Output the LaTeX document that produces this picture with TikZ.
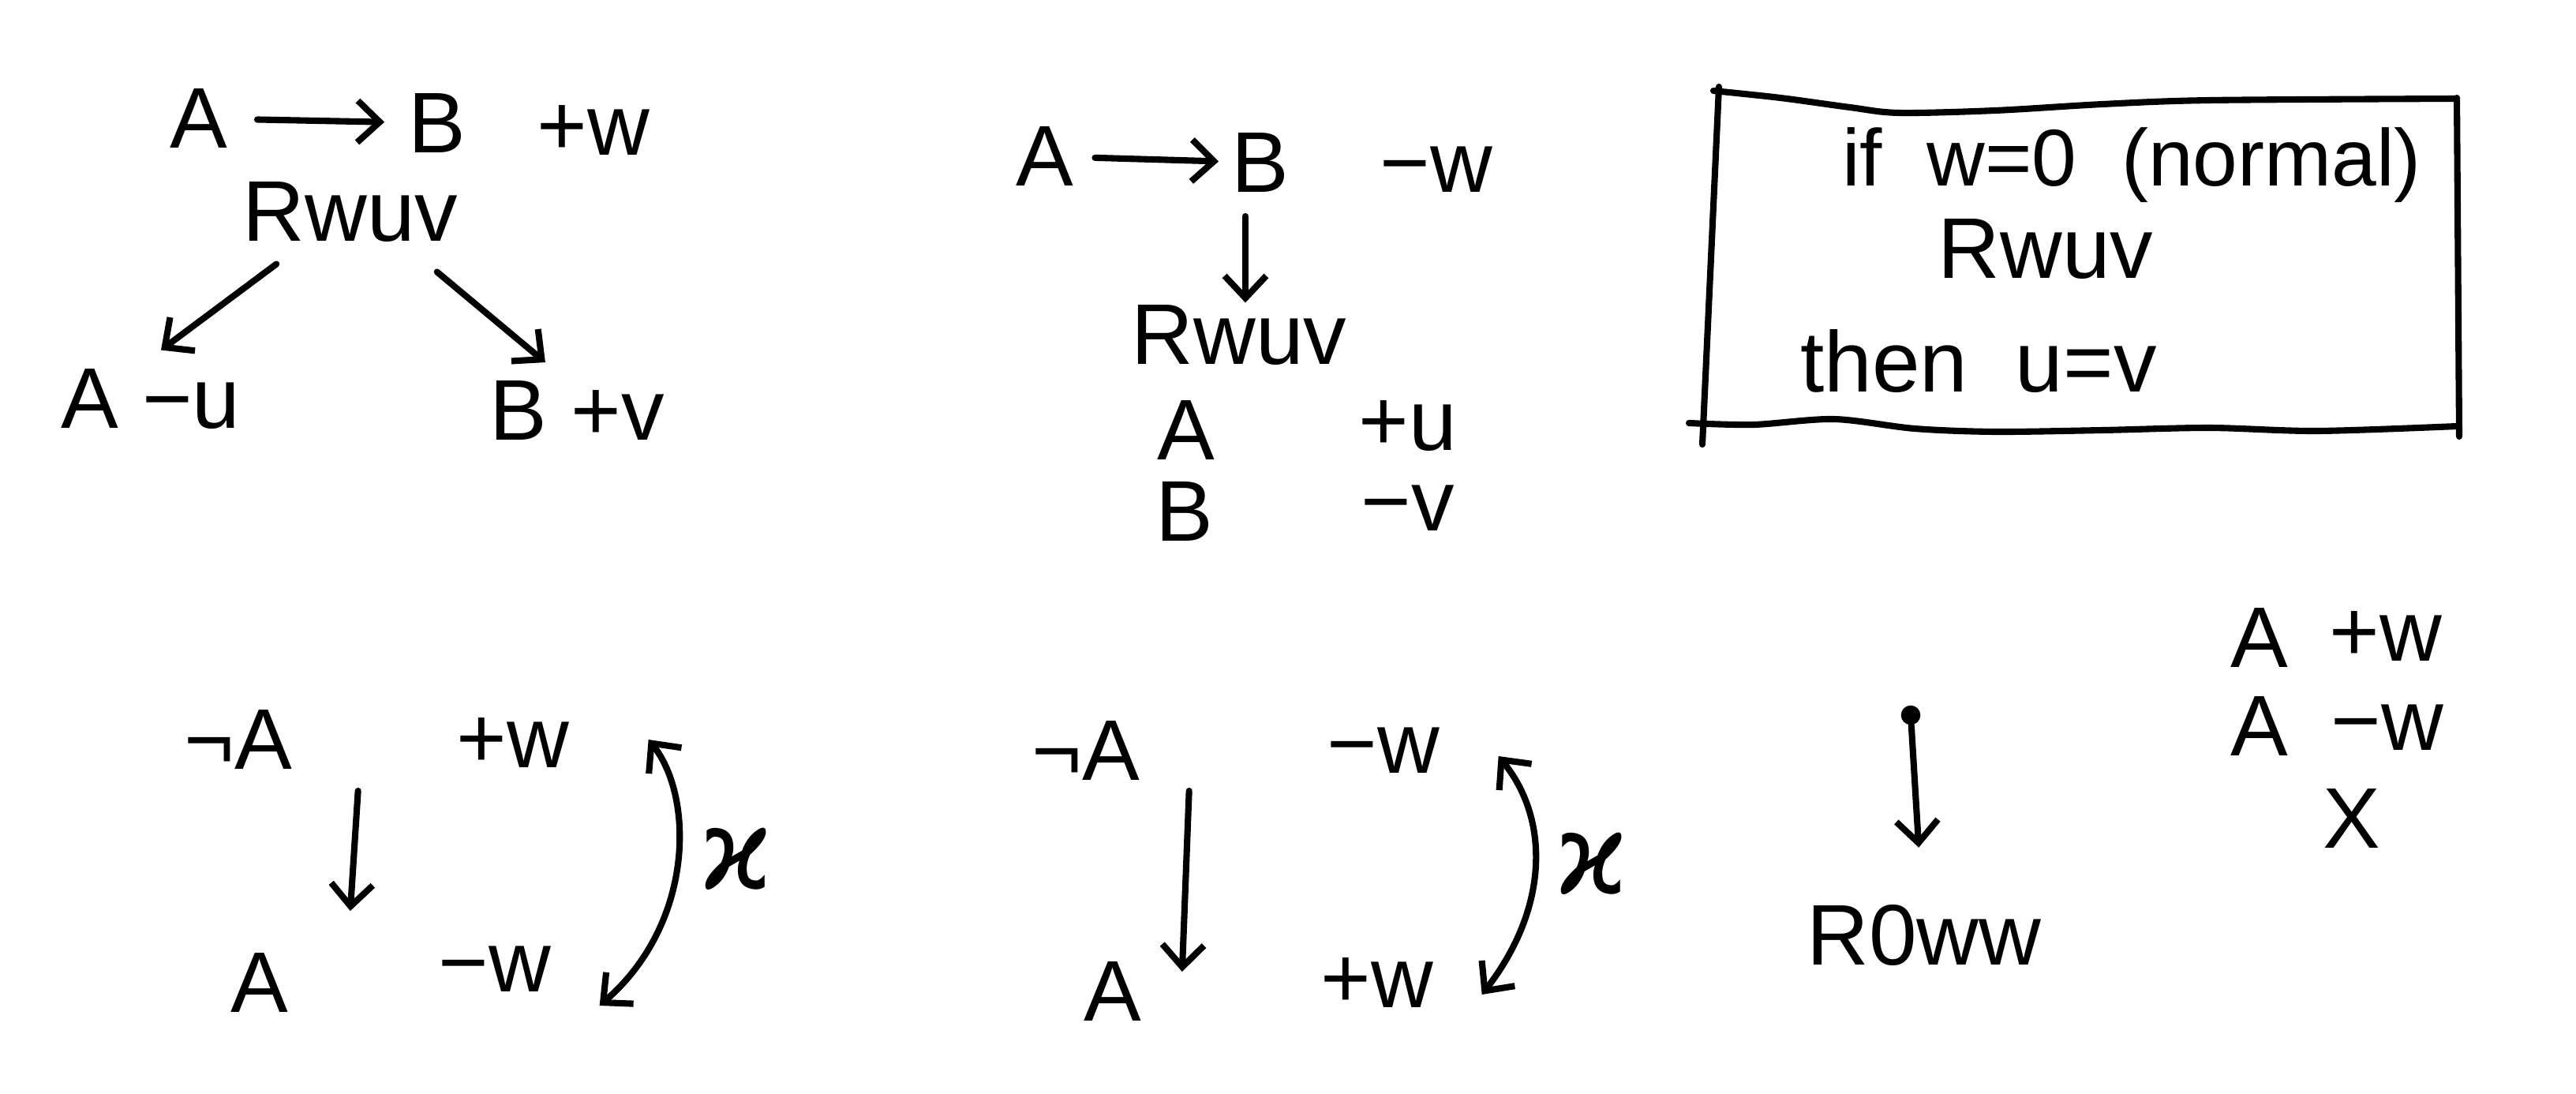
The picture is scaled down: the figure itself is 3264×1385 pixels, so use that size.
\documentclass[tikz,border=0pt]{standalone}
\usepackage{fontspec}
\setmainfont{Liberation Sans}
\newfontfamily\markfont{DejaVu Sans}
\usetikzlibrary{positioning,calc,arrows.meta}

\begin{document}
\begin{tikzpicture}[
    x=0.01cm,
    y=-0.01cm,
    every node/.style={font=\fontsize{31}{36}\selectfont, inner sep=0.5pt},
    pen/.style={
        line width=2.3pt,
        line cap=round,
        line join=round
    },
    arr/.style={
        pen,
        -{Straight Barb[length=8pt,width=15pt]}
    },
    twoway/.style={
        pen,
        {Straight Barb[length=8pt,width=15pt]}-{Straight Barb[length=8pt,width=15pt]}
    },
    dot/.style={
        circle,
        fill,
        inner sep=0pt,
        minimum size=7pt
    },
    sign/.style={
        font=\markfont\fontsize{40}{40}\selectfont
    }
]

\useasboundingbox (0,0) rectangle (3264,1385);

% top left: A -> B, split of Rwuv
\node (a1) at (252,150) {A};
\node (b1) at (554,156) {B};
\node (w1) at (752,165) {+w};
\node (r1) at (444,269) {Rwuv};
\node (au1) at (191,506) {A −u};
\node (bv1) at (731,520) {B +v};

\draw[arr, shorten <=10pt, shorten >=8pt] (a1) -- (b1);
\draw[arr] ($(r1.south west)+(45,25)$) -- ($(au1.north)+(13,-22)$);
\draw[arr] ($(r1.south east)+(-29,35)$) -- ($(bv1.north west)+(73,-21)$);

% top middle
\node (a2) at (1324,198) {A};
\node (b2) at (1597,206) {B};
\node (w2) at (1820,215) {−w};
\node (r2) at (1570,425) {Rwuv};
\node (a3) at (1503,545) {A};
\node (u3) at (1784,540) {+u};
\node (b3) at (1501,648) {B};
\node (v3) at (1784,644) {−v};

\draw[arr, shorten <=7pt, shorten >=4pt] (a2) -- (b2);
\draw[arr] ($(b2.south)+(-19,28)$) -- ($(r2.north)+(8,-1)$);

% box with the rule
\draw[pen] (2178,110) -- (2157,563);
\draw[pen] (3113,124) -- (3116,553);
\draw[pen] plot[smooth] coordinates {(2171,115) (2256,124) (2344,136) (2406,143) (2528,140) (2664,132) (2800,127) (3113,125)};
\draw[pen] plot[smooth] coordinates {(2140,536) (2222,538) (2324,531) (2426,543) (2528,547) (2664,545) (2800,542) (2936,546) (3113,540)};

\node[font=\fontsize{29}{34}\selectfont] (cond) at (2701,209) {if\ \ w=0\ \ (normal)};
\node (r3) at (2592,316) {Rwuv};
\node (then) at (2507,458) {then\ \ u=v};

% bottom left
\node (na1) at (302,937) {¬A};
\node (pw1) at (650,941) {+w};
\node (a4) at (329,1245) {A};
\node (mw1) at (627,1228) {−w};
\coordinate (c1t) at ($(pw1.east)+(98,-4)$);
\coordinate (c1b) at ($(mw1.east)+(59,46)$);
\node[sign] (sign1) at (933,1088) {ϰ};

\draw[arr] ($(na1.south east)+(81,25)$) -- ($(a4.north east)+(76,-51)$);
\draw[twoway] (c1t) .. controls +(58,73) and +(120,-104) .. (c1b);

% bottom middle
\node (na2) at (1376,951) {¬A};
\node (mw2) at (1753,951) {−w};
\node (a5) at (1410,1256) {A};
\node (pw2) at (1745,1245) {+w};
\coordinate (c2t) at ($(mw2.east)+(72,7)$);
\coordinate (c2b) at ($(pw2.east)+(59,15)$);
\node[sign] (sign2) at (2017,1094) {ϰ};

\draw[arr] ($(na2.south east)+(60,11)$) -- ($(a5.north east)+(49,15)$);
\draw[twoway] (c2t) .. controls +(65,80) and +(85,-110) .. (c2b);

% bottom right
\node[dot] (src) at (2421,906) {};
\node (r0) at (2438,1185) {R0ww};
\node (ap) at (2863,808) {A};
\node (pw3) at (3023,806) {+w};
\node (am) at (2863,920) {A};
\node (mw3) at (3025,922) {−w};
\node (cross) at (2980,1037) {X};

\draw[arr, shorten >=20pt] (src) -- (r0);

\end{tikzpicture}
\end{document}
